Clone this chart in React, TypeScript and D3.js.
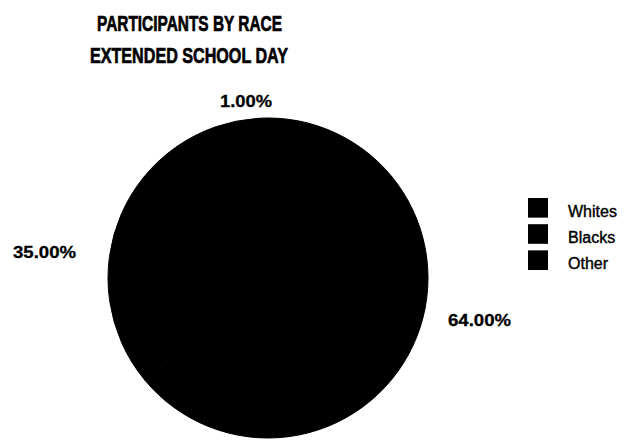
import React from "react";
import * as d3 from "d3";

const categories = ["Whites", "Blacks", "Other"];
const values = [64, 35, 1];
const valueLabels = ["64.00%", "35.00%", "1.00%"];
const titleLines = ["PARTICIPANTS BY RACE", "EXTENDED SCHOOL DAY"];

const W = 625;
const H = 442;
const cx = 268;
const cy = 278;
const R = 160;
const FONT = "'Liberation Sans', Arial, Helvetica, sans-serif";
const colors = d3.scaleOrdinal<string, string>().domain(categories).range(["#000000", "#000000", "#000000"]);

const labelPos: Record<string, { x: number; y: number; len: number }> = {
  Whites: { x: 448, y: 326, len: 63 },
  Blacks: { x: 13, y: 258, len: 63 },
  Other: { x: 220, y: 107, len: 52 },
};

export default function App() {
  const pie = d3.pie<number>().sort(null).value((d) => d)(values);
  const arc = d3.arc<d3.PieArcDatum<number>>().innerRadius(0).outerRadius(R);
  const legendY = d3.scaleBand<string>().domain(categories).range([198, 270]).paddingInner(0.25);

  return (
    <svg width={W} height={H} style={{ position: "absolute", left: 0, top: 0, background: "#fff" }}>
      <rect width={W} height={H} fill="#fff" />
      <text x={97} y={31} fontFamily={FONT} fontWeight="bold" fontSize={22} textLength={185} lengthAdjust="spacingAndGlyphs" fill="#000" stroke="#000" strokeWidth={0.7}>
        {titleLines[0]}
      </text>
      <text x={90} y={63} fontFamily={FONT} fontWeight="bold" fontSize={22} textLength={198} lengthAdjust="spacingAndGlyphs" fill="#000" stroke="#000" strokeWidth={0.7}>
        {titleLines[1]}
      </text>
      <g transform={`translate(${cx},${cy})`}>
        {pie.map((p, i) => (
          <path key={i} d={arc(p) || ""} fill={colors(categories[i])} stroke="#000" strokeWidth={1} />
        ))}
      </g>
      {categories.map((c, i) => {
        const lp = labelPos[c];
        return (
          <text key={c} x={lp.x} y={lp.y} fontFamily={FONT} fontWeight="bold" fontSize={17} textLength={lp.len} lengthAdjust="spacingAndGlyphs" fill="#000" stroke="#000" strokeWidth={0.3}>
            {valueLabels[i]}
          </text>
        );
      })}
      {categories.map((c) => (
        <g key={c}>
          <rect x={528} y={legendY(c)} width={20} height={legendY.bandwidth()} fill={colors(c)} />
          <text x={568} y={(legendY(c) || 0) + legendY.bandwidth() - 1} fontFamily={FONT} fontSize={16} fill="#000" stroke="#000" strokeWidth={0.4}>
            {c}
          </text>
        </g>
      ))}
    </svg>
  );
}
